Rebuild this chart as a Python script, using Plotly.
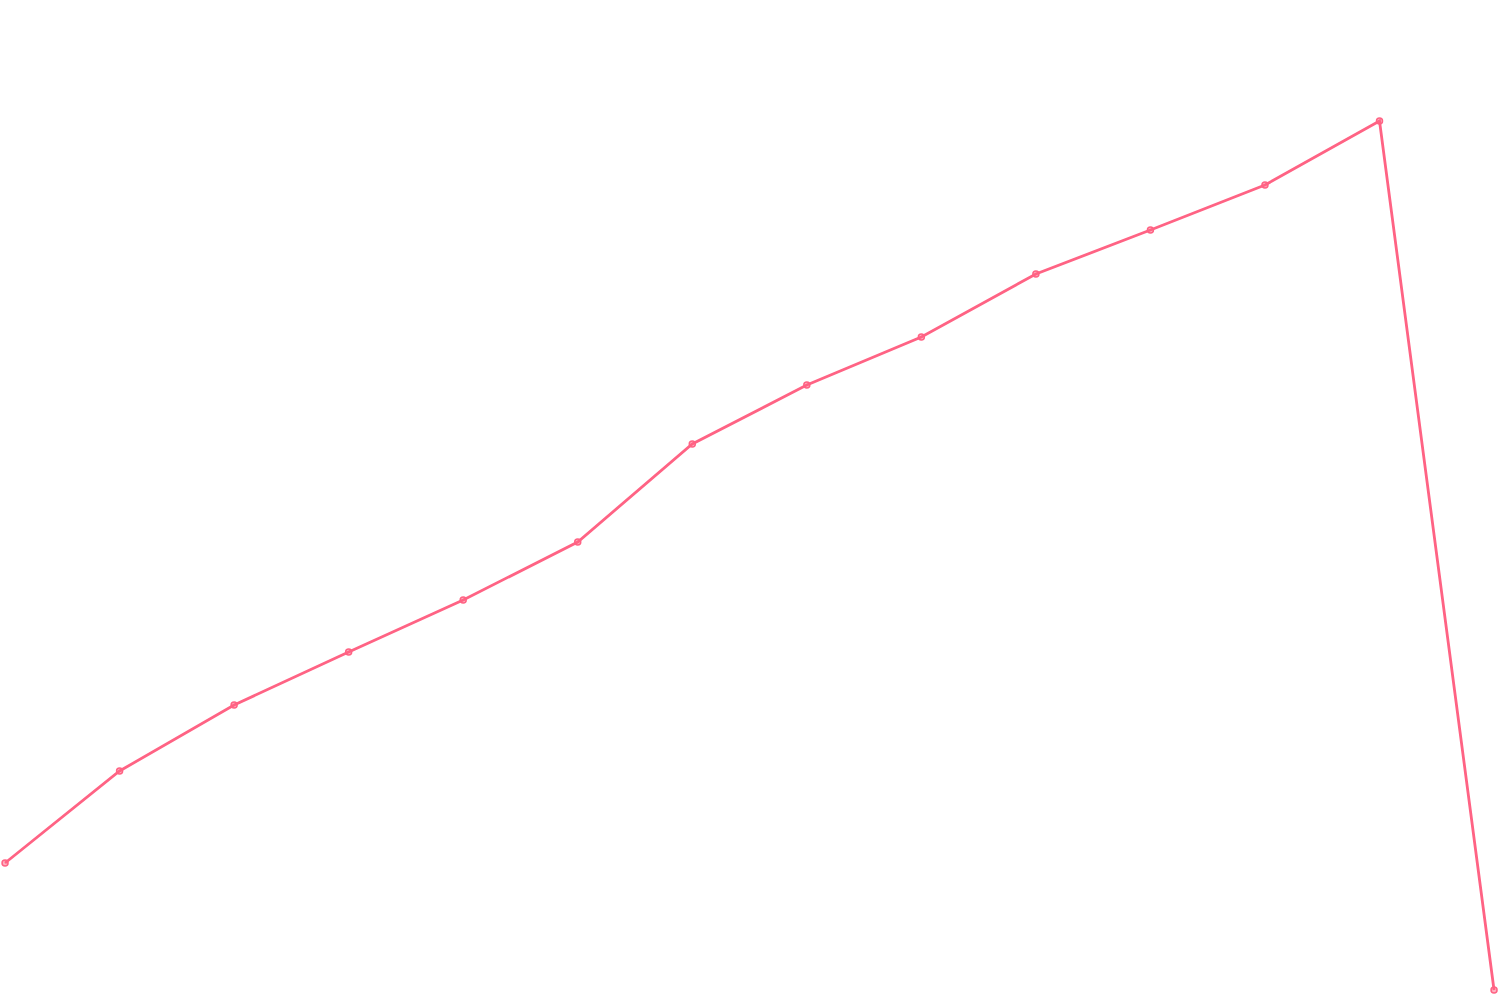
import plotly.graph_objects as go

# step index and value of each point
steps = list(range(14))
values = [127, 219, 285, 338, 390, 448, 546, 605, 653, 716, 760, 805, 869, 0]

fig = go.Figure()
fig.add_trace(go.Scatter(
    x=steps, y=values, mode='lines+markers', cliponaxis=False,
    line={'color': 'rgb(255,99,132)', 'width': 2.8},
    marker={'size': 6, 'color': 'rgba(255,99,132,0.5)',
            'line': {'color': 'rgb(255,99,132)', 'width': 1.5}},
))

fig.update_xaxes(range=[-0.044, 13.052], visible=False)
fig.update_yaxes(range=[-10, 990], visible=False)
fig.update_layout(
    width=1500, height=1000,
    margin={'l': 0, 'r': 0, 't': 0, 'b': 0},
    paper_bgcolor='white', plot_bgcolor='white',
    showlegend=False,
)
# the page's default body margin would shift the chart by 8px
fig.write_html("out.html", config={'displayModeBar': False},
               post_script="document.body.style.margin='0';document.body.style.overflow='hidden';")
